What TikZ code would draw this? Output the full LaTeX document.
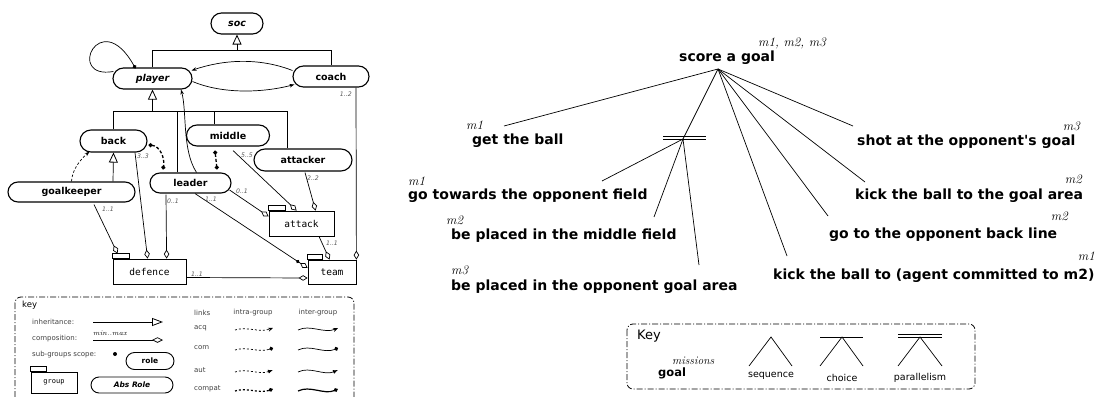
\documentclass[tikz,border=0pt]{standalone}
\usepackage{fontspec}
\newfontfamily\dvs{DejaVu Sans}
\newfontfamily\dvm{DejaVu Sans Mono}
\usetikzlibrary{shapes.misc,arrows.meta,calc}
\begin{document}
\begin{tikzpicture}[x=1pt,y=-1pt,
  role/.style={draw, line width=1.1pt, shape=rounded rectangle, minimum height=21pt, inner sep=0pt, font=\dvs\bfseries\fontsize{9.5}{11}\selectfont},
  arole/.style={role, font=\dvs\bfseries\itshape\fontsize{9.5}{11}\selectfont},
  grp/.style={draw, line width=0.8pt, inner sep=0pt, font=\dvm\fontsize{9.5}{11}\selectfont},
  tab/.style={line width=0.5pt},
  mult/.style={font=\dvs\itshape\fontsize{6.2}{7}\selectfont, text=black!65, inner sep=0pt},
  ln/.style={line width=0.7pt},
  comp/.style={ln, -{Diamond[open, length=9pt, width=5.5pt, line width=0.7pt]}},
  inh/.style={ln, -{Triangle[open, length=10pt, width=9pt, line width=0.8pt]}},
  tipS/.style={-{Stealth[length=5pt, width=3.5pt]}},
  compat/.style={line width=1.3pt, dash pattern=on 3pt off 2pt, {Circle[length=4pt]}-{Circle[length=4pt]}},
  goal/.style={font=\dvs\bfseries\fontsize{14}{16}\selectfont, inner sep=0pt, anchor=west},
  mis/.style={font=\itshape\fontsize{13}{15}\selectfont, inner sep=0pt},
  keytxt/.style={font=\dvs\fontsize{7}{8}\selectfont, text=black!75, inner sep=0pt, anchor=west},
  keybox/.style={draw, line width=0.8pt, rounded corners=6pt, dash pattern=on 6pt off 2pt on 1pt off 2pt},
  intra/.style={line width=0.7pt, dash pattern=on 2pt off 2pt},
  intrac/.style={line width=1.2pt, dash pattern=on 2pt off 2pt},
  inter/.style={line width=0.7pt},
  interc/.style={line width=1.2pt},
  tree/.style={line width=0.7pt}
]
\useasboundingbox (0,0) rectangle (1099,396);

% ---------------- left: structural specification ----------------
\node[arole, minimum width=52pt] (soc) at (237,23.5) {soc};
\node[arole, minimum width=79pt] (player) at (152.5,78.5) {player};
\node[role, minimum width=76pt] (coach) at (331,76.5) {coach};
\node[role, minimum width=67pt, minimum height=22pt] (back) at (113.5,141) {back};
\node[role, minimum width=83pt] (middle) at (228,135.5) {middle};
\node[role, minimum width=98pt, minimum height=22pt] (attacker) at (303,160) {attacker};
\node[role, minimum width=127pt, minimum height=20pt] (goalkeeper) at (71.5,192) {goalkeeper};
\node[role, minimum width=81pt, minimum height=20pt] (leader) at (190.5,183) {leader};

\node[grp, minimum width=73pt, minimum height=25pt] (defence) at (149.5,271.5) {defence};
\node[grp, minimum width=65pt, minimum height=25pt] (attack) at (301.5,223.5) {attack};
\node[grp, minimum width=48pt, minimum height=24pt] (team) at (332,272) {team};
\draw[tab] (defence.north west) rectangle ++(17,-5);
\draw[tab] (attack.north west) rectangle ++(17,-5);
\draw[tab] (team.north west) rectangle ++(15,-5);

% inheritance to soc
\draw[ln] (player.north) -- ++(0,-17) coordinate (ih1) -| (coach.north);
\draw[inh] (soc.south |- ih1) -- (soc.south);
% inheritance to player
\coordinate (ih2) at ($(player.south)+(0,22)$);
\coordinate (ih2b) at ($(player.south)+(0,11)$);
\draw[inh] (ih2b) -- (player.south);
\draw[line width=1.6pt] (ih2) -- (ih2b);
\coordinate (vL) at ($(leader.north)+(-13.5,0)$);
\coordinate (vM) at ($(middle.north)+(-14,0)$);
\coordinate (vA) at ($(attacker.north)+(-16,0)$);
\draw[ln] (back.north) |- (ih2) -| (vA);
\draw[ln] (vL) -- (vL |- ih2);
\draw[ln] (vM) -- (vM |- ih2);
% inheritance to back
\coordinate (vG) at ($(goalkeeper.north)+(41.5,0)$);
\draw[inh] (vG) -- (back.south);

% links
\draw[ln, -{Circle[length=4pt]}] ($(player.west)+(1,-7)$) .. controls (65,80) and (100,5) .. ($(player.north west)+(12,1)$);
\draw[ln, tipS] ($(coach.west)+(0,-6)$) .. controls (258,57) and (222,60) .. ($(player.east)+(-1,-8)$);
\draw[ln, tipS] ($(player.east)+(0,3)$) .. controls (222,94) and (262,93) .. ($(coach.west)+(2,8)$);
\draw[ln, tipS] ($(leader.north)+(6,0)$) .. controls (182,150) and (187,112) .. ($(player.south)+(28.5,0)$);
\draw[ln, dash pattern=on 2.5pt off 2pt, tipS] (goalkeeper.north) .. controls (72,170) and (80,160) .. ($(back.south)+(-24,-1)$);
\draw[compat] ($(back.east)+(1,4)$) .. controls (160,146) and (165,158) .. ($(leader.north)+(-27.5,-3)$);
\draw[compat] ($(middle.south)+(-13,4)$) -- ($(leader.north)+(26.5,-3)$);

% compositions
\draw[comp] ($(goalkeeper.south)+(22.5,2)$) -- ($(defence.north west)+(5,-5)$);
\draw[comp] ($(back.south)+(21.5,0)$) -- ($(defence.north west)+(35,0)$);
\draw[comp] ($(leader.south)+(-24.5,1)$) -- ($(defence.north west)+(54,0)$);
\draw[ln, -{Circle[length=3.5pt, sep=1pt] Diamond[open, length=9pt, width=5.5pt, line width=0.7pt]}] ($(leader.south)+(4.5,0)$) -- ($(team.west)+(0,-4)$);
\draw[comp] ($(leader.east)+(-2,7)$) -- ($(attack.west)+(0,-7)$);
\draw[comp] ($(middle.south)+(5,4)$) -- ($(attack.north west)+(28,0)$);
\draw[comp] ($(attacker.south)+(2,1)$) -- ($(attack.north west)+(47,0)$);
\draw[comp] ($(attack.south)+(17.5,0)$) -- ($(team.north west)+(22,0)$);
\draw[comp] ($(coach.south)+(25,0)$) -- (team.north east);
\draw[comp] ($(defence.east)+(0,6)$) -- ($(team.west)+(0,6)$);

% multiplicities
\node[mult, anchor=east] (mc) at (352,94) {1..2};
\node[mult] (m33) at (143,156) {3..3};
\node[mult] (m55) at (247,155) {5..5};
\node[mult] (m22) at (313,178) {2..2};
\node[mult] (m11a) at (108,209) {1..1};
\node[mult] (m01a) at (173,201) {0..1};
\node[mult] (m11b) at (211,199) {1..1};
\node[mult] (m01b) at (242,191) {0..1};
\node[mult] (m11c) at (332,243) {1..1};
\node[mult] (m11d) at (197,274) {1..1};

% ---------------- left key ----------------
\draw[keybox] (15,297) rectangle (354,420);
\node[keytxt, font=\dvs\fontsize{8.5}{9}\selectfont, text=black] (kk) at (22,305) {key};
\node[keytxt] (kinh) at (32,322) {inheritance:};
\node[keytxt] (kcomp) at (32,339) {composition:};
\node[keytxt] (ksub) at (32,355) {sub-groups scope:};
\coordinate (ki1) at (93,322); \coordinate (ki2) at (163,322);
\draw[ln, -{Triangle[open, length=11pt, width=8pt, line width=0.8pt]}] (ki1) -- (ki2);
\coordinate (kc1) at (93,340); \coordinate (kc2) at (163,340);
\draw[ln, -{Diamond[open, length=11pt, width=5.5pt, line width=0.7pt]}] (kc1) -- (kc2);
\node[font=\itshape\fontsize{7}{8}\selectfont, inner sep=0pt] (kmm) at (110,333) {min..max};
\fill (115,354) circle (2pt);
\node[role, font=\dvs\bfseries\fontsize{7.5}{9}\selectfont, minimum width=48pt, minimum height=17pt, line width=0.9pt] (krole) at (150,361) {role};
\node[arole, font=\dvs\bfseries\itshape\fontsize{7.5}{9}\selectfont, minimum width=82pt, minimum height=16pt, line width=0.9pt] (kabs) at (132,385) {Abs Role};
\node[grp, font=\dvm\fontsize{7}{8}\selectfont, minimum width=46pt, minimum height=21pt, line width=0.6pt] (kgrp) at (54,382.5) {group};
\draw[tab] (kgrp.north west) rectangle ++(16,-5);

\node[keytxt] (klinks) at (194,313) {links};
\node[keytxt, anchor=center] (kintra) at (253,313) {intra-group};
\node[keytxt, anchor=center] (kinter) at (318,313) {inter-group};
\node[keytxt] (kacq) at (194,328) {acq};
\node[keytxt] (kcom) at (194,348) {com};
\node[keytxt] (kaut) at (194,370) {aut};
\node[keytxt] (kcpt) at (194,389) {compat};
\draw[intra, -{Stealth[length=5pt, width=4pt]}] (235,330) .. controls +(12,-4) and +(-14,5) .. ++(38,-2);
\draw[inter, -{Stealth[length=5pt, width=4pt]}] (298,330) .. controls +(12,-6) and +(-14,6) .. ++(40,-2);
\draw[intra, -{Circle[length=4pt]}] (235,350) .. controls +(12,-4) and +(-14,5) .. ++(38,-2);
\draw[inter, -{Circle[length=4pt]}] (298,350) .. controls +(12,-6) and +(-14,6) .. ++(40,-2);
\draw[intra, -{Latex[length=5pt, width=4pt]}] (235,372) .. controls +(12,-4) and +(-14,5) .. ++(38,-2);
\draw[inter, -{Latex[length=5pt, width=4pt]}] (298,372) .. controls +(12,-6) and +(-14,6) .. ++(40,-2);
\draw[intrac, -{Diamond[length=5pt, width=4pt]}] (235,391) .. controls +(12,-4) and +(-14,5) .. ++(38,-2);
\draw[interc, -{Diamond[length=5pt, width=4pt]}] (298,391) .. controls +(12,-6) and +(-14,6) .. ++(40,-2);

% ---------------- right: functional specification ----------------
\node[goal] (sg) at (679,58) {score a goal};
\node[mis, anchor=west] (msg) at (758,43) {m1, m2, m3};
\coordinate (root) at (718,69);
\coordinate (par) at (683,139);
\draw[tree] (663,136) -- (706,136);
\draw[tree] (663,139.5) -- (706,139.5);

\node[goal] (gb) at (472,141) {get the ball};
\node[mis, anchor=west] (mgb) at (466,125) {m1};
\coordinate (egb) at (504,126);
\node[goal] (gt) at (408,196) {go towards the opponent field};
\node[mis, anchor=west] (mgt) at (408,181) {m1};
\coordinate (egt) at (602,181);
\node[goal] (bm) at (451,235.5) {be placed in the middle field};
\node[mis, anchor=west] (mbm) at (446,220.5) {m2};
\coordinate (ebm) at (654,217);
\node[goal] (bo) at (451,287) {be placed in the opponent goal area};
\node[mis, anchor=west] (mbo) at (451,270) {m3};
\coordinate (ebo) at (699,265);
\node[goal] (sh) at (857,142) {shot at the opponent's goal};
\node[mis, anchor=east] (msh) at (1080,126) {m3};
\coordinate (esh) at (853,126);
\node[goal] (kg) at (855,196) {kick the ball to the goal area};
\node[mis, anchor=east] (mkg) at (1082,179) {m2};
\coordinate (ekg) at (865,182);
\node[goal] (gl) at (829,235) {go to the opponent back line};
\node[mis, anchor=east] (mgl) at (1068,216) {m2};
\coordinate (egl) at (828,216);
\node[goal] (ka) at (773,276) {kick the ball to (agent committed to m2)};
\node[mis, anchor=east] (mka) at (1095,256) {m1};
\coordinate (eka) at (787,256);

\foreach \e in {egb,esh,ekg,egl,eka} \draw[tree] (root) -- (\e);
\draw[tree] (root) -- (par);
\foreach \e in {egt,ebm,ebo} \draw[tree] (par) -- (\e);

% ---------------- right key ----------------
\draw[keybox] (627,324) rectangle (975,389);
\node[font=\dvs\fontsize{13}{15}\selectfont, inner sep=0pt, anchor=west] (rk) at (637,336) {Key};
\node[font=\itshape\fontsize{11.5}{13}\selectfont, inner sep=0pt, anchor=west] (rkm) at (672,361) {missions};
\node[font=\dvs\bfseries\fontsize{11.5}{13}\selectfont, inner sep=0pt, anchor=west] (rkg) at (658,373) {goal};
\coordinate (s0) at (771,337);
\draw[tree] (749,366) -- (s0) -- (792,366);
\node[font=\dvs\fontsize{9.5}{11}\selectfont, inner sep=0pt] (rks) at (771,376) {sequence};
\coordinate (c0) at (842,337);
\draw[tree] (820,366) -- (c0) -- (863,366);
\draw[tree] (820,337) -- (863,337);
\node[font=\dvs\fontsize{9.5}{11}\selectfont, inner sep=0pt] (rkc) at (842,378) {choice};
\coordinate (p0) at (920,337);
\draw[tree] (898,366) -- (p0) -- (942,366);
\draw[tree] (898,334) -- (942,334);
\draw[tree] (898,337) -- (942,337);
\node[font=\dvs\fontsize{9.5}{11}\selectfont, inner sep=0pt] (rkp) at (920,378) {parallelism};
\end{tikzpicture}
\end{document}
